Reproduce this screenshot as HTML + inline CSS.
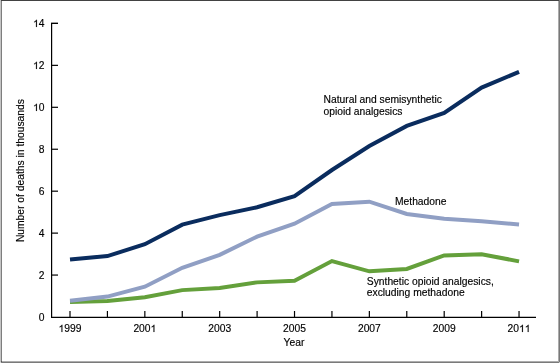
<!DOCTYPE html>
<html><head><meta charset="utf-8"><style>
html,body{margin:0;padding:0;background:#fff;}
body{width:560px;height:363px;position:relative;overflow:hidden;font-family:"Liberation Sans",sans-serif;}
svg{position:absolute;left:0;top:0;will-change:transform;}
.b{position:absolute;}
</style></head><body>
<svg width="560" height="363" viewBox="0 0 560 363">
<g stroke="#000" stroke-width="1.2" fill="none">
<polyline points="58,23.42 51.6,23.42 51.6,317.4 536,317.4"/>
<line x1="51" y1="275.06" x2="58" y2="275.06"/><line x1="51" y1="233.12" x2="58" y2="233.12"/><line x1="51" y1="191.18" x2="58" y2="191.18"/><line x1="51" y1="149.24" x2="58" y2="149.24"/><line x1="51" y1="107.30" x2="58" y2="107.30"/><line x1="51" y1="65.36" x2="58" y2="65.36"/><line x1="51" y1="23.42" x2="58" y2="23.42"/>
<line x1="70.00" y1="317" x2="70.00" y2="311"/><line x1="107.42" y1="317" x2="107.42" y2="311"/><line x1="144.84" y1="317" x2="144.84" y2="311"/><line x1="182.26" y1="317" x2="182.26" y2="311"/><line x1="219.68" y1="317" x2="219.68" y2="311"/><line x1="257.10" y1="317" x2="257.10" y2="311"/><line x1="294.52" y1="317" x2="294.52" y2="311"/><line x1="331.94" y1="317" x2="331.94" y2="311"/><line x1="369.36" y1="317" x2="369.36" y2="311"/><line x1="406.78" y1="317" x2="406.78" y2="311"/><line x1="444.20" y1="317" x2="444.20" y2="311"/><line x1="481.62" y1="317" x2="481.62" y2="311"/><line x1="519.04" y1="317" x2="519.04" y2="311"/>
</g>
<g fill="none" stroke-width="4.0" stroke-linejoin="miter" stroke-linecap="butt">
<polyline stroke="#64a03b" points="70.00,301.98 107.42,300.89 144.84,297.21 182.26,290.12 219.68,287.91 257.10,282.37 294.52,280.74 331.94,261.05 369.36,271.33 406.78,268.90 444.20,255.46 481.62,254.18 519.04,261.34"/>
<polyline stroke="#909fc4" points="70.00,300.84 107.42,296.56 144.84,286.74 182.26,267.81 219.68,254.92 257.10,236.59 294.52,223.68 331.94,203.95 369.36,201.65 406.78,213.95 444.20,218.73 481.62,221.23 519.04,224.57"/>
<polyline stroke="#0a2c5e" points="70.00,259.60 107.42,256.07 144.84,244.17 182.26,224.61 219.68,215.14 257.10,207.27 294.52,196.10 331.94,170.01 369.36,146.06 406.78,125.89 444.20,112.96 481.62,87.61 519.04,71.86"/>
</g>
<g font-family="Liberation Sans, sans-serif" font-size="10" fill="#000" stroke="#000" stroke-width="0.15">
<text transform="translate(44.50,320.60) scale(1.03,1)" text-anchor="end">0</text>
<text transform="translate(44.50,278.66) scale(1.03,1)" text-anchor="end">2</text>
<text transform="translate(44.50,236.72) scale(1.03,1)" text-anchor="end">4</text>
<text transform="translate(44.50,194.78) scale(1.03,1)" text-anchor="end">6</text>
<text transform="translate(44.50,152.84) scale(1.03,1)" text-anchor="end">8</text>
<text transform="translate(44.50,110.90) scale(1.03,1)" text-anchor="end"> 0</text>
<path transform="translate(33.043,110.90) scale(0.005029,-0.004883)" d="M763,0 L583,0 L583,1147 Q518,1085 412,1022 Q306,960 222,928 L222,1102 Q372,1172 484,1275 Q596,1378 643,1466 L763,1466 Z" vector-effect="non-scaling-stroke"/>
<text transform="translate(44.50,68.96) scale(1.03,1)" text-anchor="end"> 2</text>
<path transform="translate(33.043,68.96) scale(0.005029,-0.004883)" d="M763,0 L583,0 L583,1147 Q518,1085 412,1022 Q306,960 222,928 L222,1102 Q372,1172 484,1275 Q596,1378 643,1466 L763,1466 Z" vector-effect="non-scaling-stroke"/>
<text transform="translate(44.50,27.02) scale(1.03,1)" text-anchor="end"> 4</text>
<path transform="translate(33.043,27.02) scale(0.005029,-0.004883)" d="M763,0 L583,0 L583,1147 Q518,1085 412,1022 Q306,960 222,928 L222,1102 Q372,1172 484,1275 Q596,1378 643,1466 L763,1466 Z" vector-effect="non-scaling-stroke"/>
<text transform="translate(70.00,332.00) scale(1.03,1)" text-anchor="middle"> 999</text>
<path transform="translate(58.543,332.00) scale(0.005029,-0.004883)" d="M763,0 L583,0 L583,1147 Q518,1085 412,1022 Q306,960 222,928 L222,1102 Q372,1172 484,1275 Q596,1378 643,1466 L763,1466 Z" vector-effect="non-scaling-stroke"/>
<text transform="translate(144.84,332.00) scale(1.03,1)" text-anchor="middle">200 </text>
<path transform="translate(150.568,332.00) scale(0.005029,-0.004883)" d="M763,0 L583,0 L583,1147 Q518,1085 412,1022 Q306,960 222,928 L222,1102 Q372,1172 484,1275 Q596,1378 643,1466 L763,1466 Z" vector-effect="non-scaling-stroke"/>
<text transform="translate(219.68,332.00) scale(1.03,1)" text-anchor="middle">2003</text>
<text transform="translate(294.52,332.00) scale(1.03,1)" text-anchor="middle">2005</text>
<text transform="translate(369.36,332.00) scale(1.03,1)" text-anchor="middle">2007</text>
<text transform="translate(444.20,332.00) scale(1.03,1)" text-anchor="middle">2009</text>
<text transform="translate(519.04,332.00) scale(1.03,1)" text-anchor="middle">20  </text>
<path transform="translate(519.040,332.00) scale(0.005029,-0.004883)" d="M763,0 L583,0 L583,1147 Q518,1085 412,1022 Q306,960 222,928 L222,1102 Q372,1172 484,1275 Q596,1378 643,1466 L763,1466 Z" vector-effect="non-scaling-stroke"/>
<path transform="translate(524.768,332.00) scale(0.005029,-0.004883)" d="M763,0 L583,0 L583,1147 Q518,1085 412,1022 Q306,960 222,928 L222,1102 Q372,1172 484,1275 Q596,1378 643,1466 L763,1466 Z" vector-effect="non-scaling-stroke"/>
<text transform="translate(294.00,346.40) scale(1.03,1)" text-anchor="middle">Year</text>
<text transform="translate(24.20,170.60) rotate(-90) scale(1.03,1)" text-anchor="middle">Number of deaths in thousands</text>
<text transform="translate(323.50,103.00) scale(1.03,1)">Natural and semisynthetic</text>
<text transform="translate(323.50,114.70) scale(1.03,1)">opioid analgesics</text>
<text transform="translate(395.00,204.70) scale(1.03,1)">Methadone</text>
<text transform="translate(366.80,284.70) scale(1.03,1)">Synthetic opioid analgesics,</text>
<text transform="translate(366.80,295.80) scale(1.03,1)">excluding methadone</text>
</g>
</svg>
<div class="b" style="left:0;top:0;width:1px;height:362px;background:#c4c4c4"></div>
<div class="b" style="left:0;top:362px;width:1px;height:1px;background:#dcdcdc"></div>
<div class="b" style="left:1px;top:0;width:558px;height:1px;background:#424242"></div>
<div class="b" style="left:1px;top:1px;width:1px;height:362px;background:#7e7e7e"></div>
<div class="b" style="left:1px;top:361px;width:1px;height:1px;background:#555"></div>
<div class="b" style="left:558px;top:1px;width:1px;height:360px;background:#ababab"></div>
<div class="b" style="left:559px;top:0;width:1px;height:362px;background:#787878"></div>
<div class="b" style="left:559px;top:362px;width:1px;height:1px;background:#cccccc"></div>
<div class="b" style="left:2px;top:361px;width:557px;height:1px;background:#adadad"></div>
<div class="b" style="left:2px;top:362px;width:557px;height:1px;background:#7a7a7a"></div>
</body></html>
